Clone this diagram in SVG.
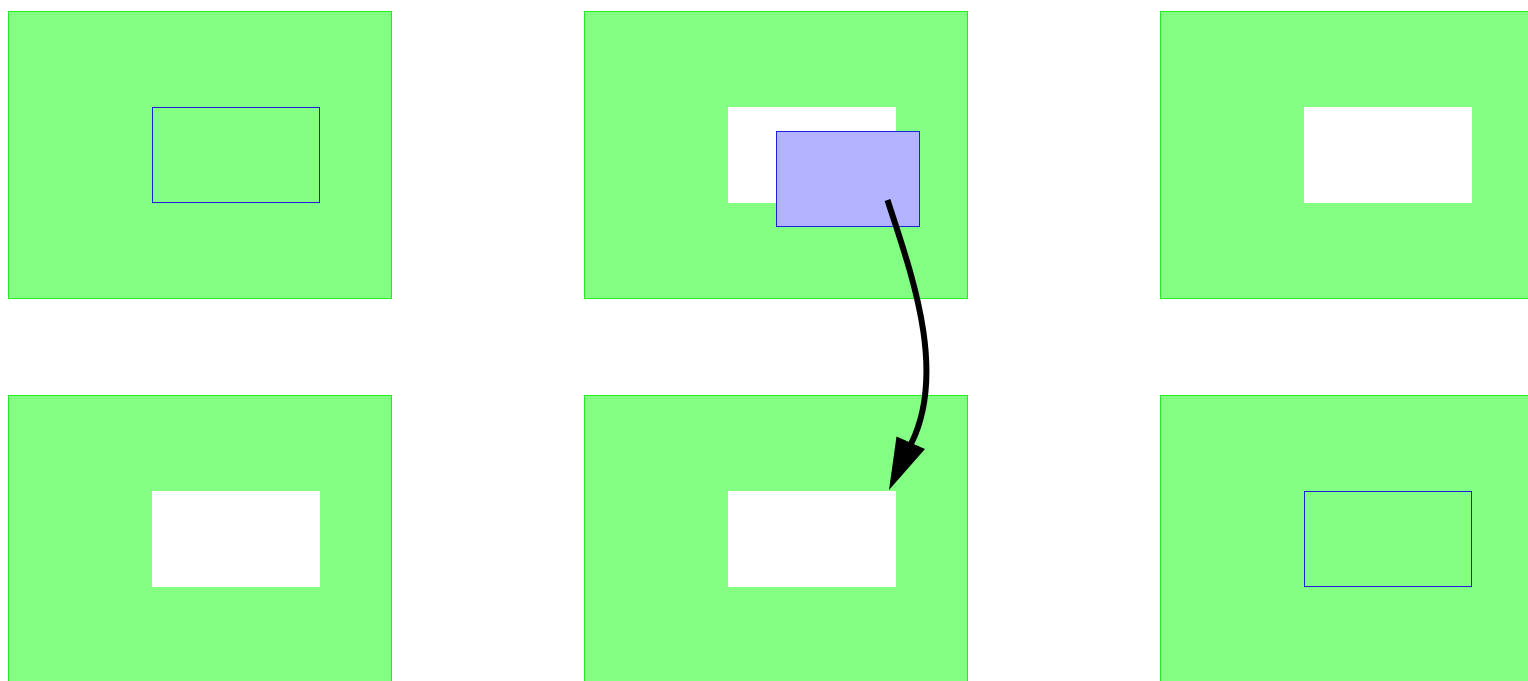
<svg xmlns="http://www.w3.org/2000/svg" width="1528" height="681" viewBox="0 0 1528 681">
<style>
.frame{fill:#83ff83;stroke:#22ee22;stroke-width:1}
.hole{fill:#fff;stroke:none}
.outline{fill:none;stroke:#1a22dd;stroke-width:1}
.drag{fill:#b3b3ff;stroke:#1a22dd;stroke-width:1}
.conn{fill:none;stroke:#000;stroke-width:6}
</style>
<rect width="1528" height="681" fill="#fff"/>
<g id="tl">
<rect class="frame" x="8.5" y="11.5" width="383" height="287"/>
<rect class="outline" x="152.5" y="107.5" width="167" height="95"/>
</g>
<g id="tm">
<rect class="frame" x="584.5" y="11.5" width="383" height="287"/>
<rect class="hole" x="728" y="107" width="168" height="96"/>
</g>
<g id="tr">
<rect class="frame" x="1160.5" y="11.5" width="383" height="287"/>
<rect class="hole" x="1304" y="107" width="168" height="96"/>
</g>
<g id="bl">
<rect class="frame" x="8.5" y="395.5" width="383" height="287"/>
<rect class="hole" x="152" y="491" width="168" height="96"/>
</g>
<g id="bm">
<rect class="frame" x="584.5" y="395.5" width="383" height="287"/>
<rect class="hole" x="728" y="491" width="168" height="96"/>
</g>
<g id="br">
<rect class="frame" x="1160.5" y="395.5" width="383" height="287"/>
<rect class="outline" x="1304.5" y="491.5" width="167" height="95"/>
</g>
<g id="dragged">
<rect class="drag" x="776.5" y="131.5" width="143" height="95"/>
</g>
<g id="connectors">
<path class="conn" d="M887.5,200 C910,270 948,370 911,444"/>
<polygon points="889,490 896.5,436.5 925,449" fill="#000"/>
</g>
</svg>
